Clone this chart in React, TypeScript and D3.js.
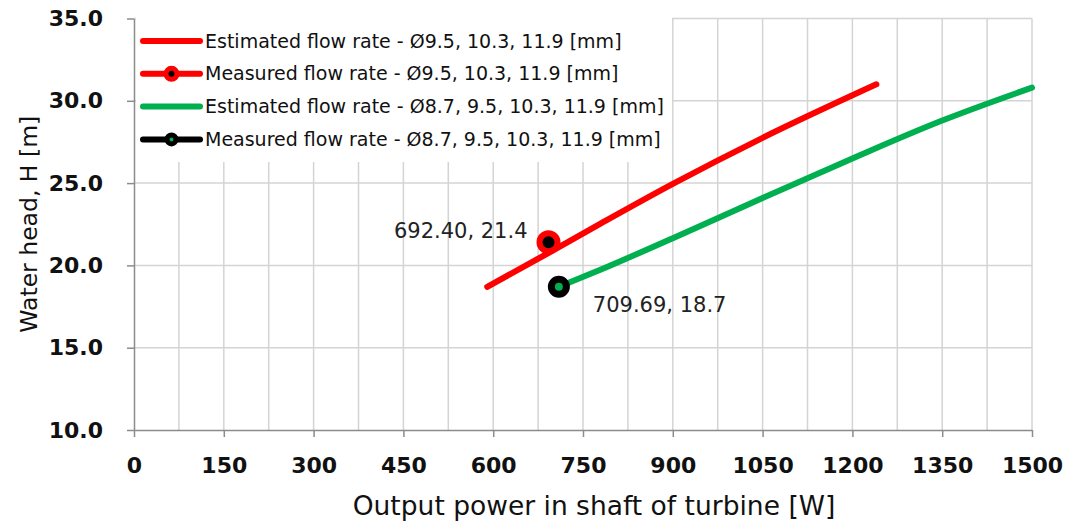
import React, { useEffect, useRef } from 'react';
import * as d3 from 'd3';

// values
const redEstimatedX = [590, 692, 780, 900, 1050, 1240];
const redEstimatedY = [18.7, 20.75, 22.55, 24.95, 27.75, 31.0];
const greenEstimatedX = [709.69, 780, 900, 1050, 1200, 1350, 1500];
const greenEstimatedY = [18.7, 19.75, 21.65, 24.1, 26.5, 28.8, 30.8];
const redMeasured = [692.4, 21.4];
const greenMeasured = [709.69, 18.7];
const xTicks = [0, 150, 300, 450, 600, 750, 900, 1050, 1200, 1350, 1500];
const yTicks = [10, 15, 20, 25, 30, 35];
const legendLabels = [
  'Estimated flow rate - Ø9.5, 10.3, 11.9 [mm]',
  'Measured flow rate - Ø9.5, 10.3, 11.9 [mm]',
  'Estimated flow rate - Ø8.7, 9.5, 10.3, 11.9 [mm]',
  'Measured flow rate - Ø8.7, 9.5, 10.3, 11.9 [mm]',
];

const RED = '#ff0000';
const GREEN = '#00b050';
const FONT = '"DejaVu Sans", sans-serif';

const App = () => {
  const svgRef = useRef<SVGSVGElement>(null);

  useEffect(() => {
    const svg = d3.select(svgRef.current);
    svg.selectAll('*').remove();

    const width = 1065;
    const height = 528;
    const margin = { top: 18.5, right: 33, bottom: 98, left: 134 };

    const x = d3.scaleLinear().domain([0, 1500]).range([margin.left, width - margin.right]);
    const y = d3.scaleLinear().domain([10, 35]).range([height - margin.bottom, margin.top]);

    svg.append('rect').attr('width', width).attr('height', height).attr('fill', '#fff');

    // grid
    const grid = svg.append('g').attr('stroke', '#d4d4d4').attr('stroke-width', 1.5);
    grid
      .selectAll('line.v')
      .data(d3.range(75, 1501, 75))
      .enter()
      .append('line')
      .attr('x1', (d) => x(d))
      .attr('x2', (d) => x(d))
      .attr('y1', y(10))
      .attr('y2', y(35));
    grid
      .selectAll('line.h')
      .data(yTicks.slice(1))
      .enter()
      .append('line')
      .attr('x1', x(0))
      .attr('x2', x(1500))
      .attr('y1', (d) => y(d))
      .attr('y2', (d) => y(d));

    // axes
    const axisColor = '#8c8c8c';
    const xAxis = svg
      .append('g')
      .attr('transform', `translate(0, ${y(10)})`)
      .call(d3.axisBottom(x).tickValues(xTicks).tickSize(7).tickSizeOuter(0).tickPadding(20).tickFormat(d3.format('d')));
    const yAxis = svg
      .append('g')
      .attr('transform', `translate(${x(0)}, 0)`)
      .call(d3.axisLeft(y).tickValues(yTicks).tickSize(7).tickSizeOuter(0).tickPadding(24).tickFormat(d3.format('.1f')));
    [xAxis, yAxis].forEach((a) => {
      a.select('.domain').attr('stroke', axisColor).attr('stroke-width', 1.5);
      a.selectAll('.tick line').attr('stroke', axisColor).attr('stroke-width', 1.5);
      a.selectAll('.tick text')
        .attr('fill', '#111')
        .style('font-family', FONT)
        .style('font-weight', 'bold')
        .style('font-size', '22px');
    });

    // axis titles
    svg
      .append('text')
      .attr('x', 594)
      .attr('y', 515)
      .attr('text-anchor', 'middle')
      .style('font-family', FONT)
      .style('font-size', '26.5px')
      .attr('fill', '#111')
      .text('Output power in shaft of turbine [W]');
    svg
      .append('text')
      .attr('transform', `translate(37, ${(y(10) + y(35)) / 2}) rotate(-90)`)
      .attr('text-anchor', 'middle')
      .style('font-family', FONT)
      .style('font-size', '23.5px')
      .attr('fill', '#111')
      .text('Water head, H [m]');

    // legend background hides the grid behind it
    svg.append('rect').attr('x', x(0) + 2).attr('y', 10).attr('width', 536).attr('height', 152).attr('fill', '#fff');

    const line = d3
      .line<number>()
      .x((d) => x(d))
      .curve(d3.curveMonotoneX);

    // estimated lines
    svg
      .append('path')
      .attr('d', line.y((d, i) => y(redEstimatedY[i]))(redEstimatedX))
      .attr('fill', 'none')
      .attr('stroke', RED)
      .attr('stroke-width', 6)
      .attr('stroke-linecap', 'round');
    svg
      .append('path')
      .attr('d', line.y((d, i) => y(greenEstimatedY[i]))(greenEstimatedX))
      .attr('fill', 'none')
      .attr('stroke', GREEN)
      .attr('stroke-width', 6)
      .attr('stroke-linecap', 'round');

    // measured points
    svg
      .append('circle')
      .attr('cx', x(redMeasured[0]))
      .attr('cy', y(redMeasured[1]))
      .attr('r', 9)
      .attr('fill', '#000')
      .attr('stroke', RED)
      .attr('stroke-width', 6);
    svg
      .append('circle')
      .attr('cx', x(greenMeasured[0]))
      .attr('cy', y(greenMeasured[1]))
      .attr('r', 7.5)
      .attr('fill', GREEN)
      .attr('stroke', '#000')
      .attr('stroke-width', 7);

    // data labels
    svg
      .append('text')
      .attr('x', x(redMeasured[0]) - 21)
      .attr('y', y(redMeasured[1]) - 4)
      .attr('text-anchor', 'end')
      .style('font-family', FONT)
      .style('font-size', '21px')
      .attr('fill', '#222')
      .text(`${redMeasured[0].toFixed(2)}, ${redMeasured[1]}`);
    svg
      .append('text')
      .attr('x', x(greenMeasured[0]) + 34)
      .attr('y', y(greenMeasured[1]) + 25)
      .style('font-family', FONT)
      .style('font-size', '21px')
      .attr('fill', '#222')
      .text(`${greenMeasured[0].toFixed(2)}, ${greenMeasured[1]}`);

    // legend
    const legend = svg.append('g').attr('transform', 'translate(143, 41)');
    const rowH = 32.8;
    const colors = [RED, RED, GREEN, '#000'];
    legend
      .selectAll('line')
      .data(legendLabels)
      .enter()
      .append('line')
      .attr('x1', 0)
      .attr('x2', 57)
      .attr('y1', (d, i) => i * rowH)
      .attr('y2', (d, i) => i * rowH)
      .attr('stroke', (d, i) => colors[i])
      .attr('stroke-width', 6)
      .attr('stroke-linecap', 'round');
    legend
      .append('circle')
      .attr('cx', 28.5)
      .attr('cy', rowH)
      .attr('r', 5.5)
      .attr('fill', '#000')
      .attr('stroke', RED)
      .attr('stroke-width', 5)
    legend
      .append('circle')
      .attr('cx', 28.5)
      .attr('cy', rowH * 3)
      .attr('r', 4.5)
      .attr('fill', GREEN)
      .attr('stroke', '#000')
      .attr('stroke-width', 5);
    legend
      .selectAll('text')
      .data(legendLabels)
      .enter()
      .append('text')
      .attr('x', 62)
      .attr('y', (d, i) => i * rowH)
      .attr('dy', '0.35em')
      .style('font-family', FONT)
      .style('font-size', '19px')
      .attr('fill', '#111')
      .text((d) => d);
  }, []);

  return (
    <svg
      ref={svgRef}
      width={1065}
      height={528}
      style={{ position: 'absolute', left: 0, top: 0, display: 'block' }}
    />
  );
};

export default App;
